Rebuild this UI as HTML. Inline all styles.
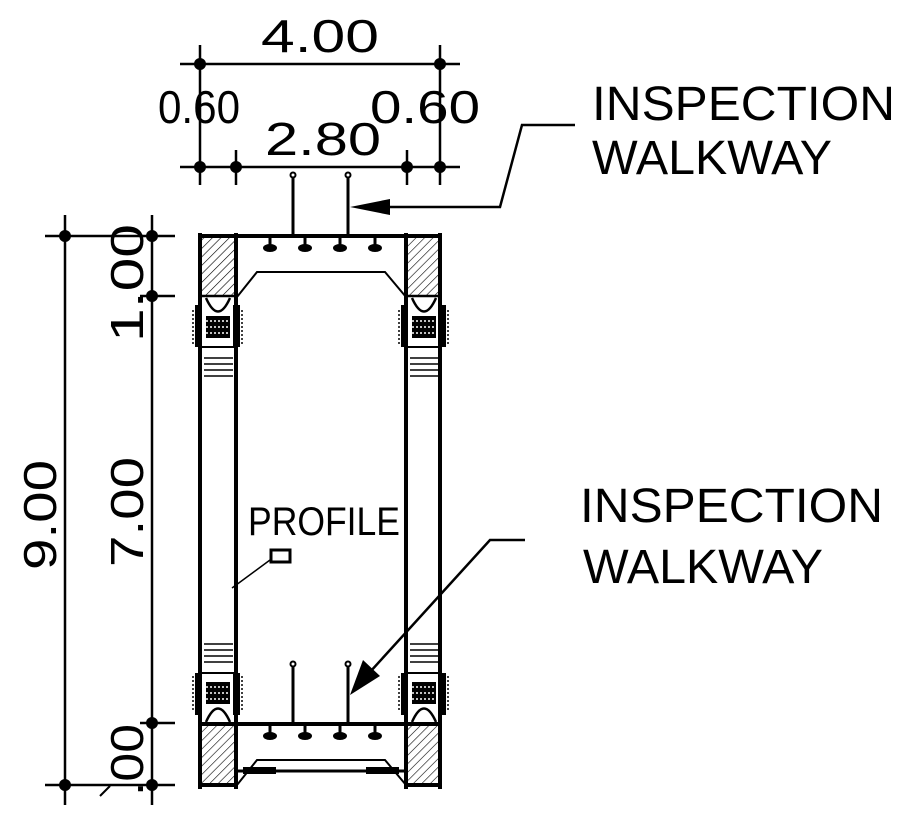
<!DOCTYPE html>
<html><head><meta charset="utf-8"><style>
html,body{margin:0;padding:0;background:#fff;width:915px;height:824px;overflow:hidden}
text{font-family:"Liberation Sans",sans-serif;fill:#000}
</style></head><body>
<svg width="915" height="824" viewBox="0 0 915 824" xmlns="http://www.w3.org/2000/svg">
<defs>
<pattern id="h" width="6" height="6" patternUnits="userSpaceOnUse" patternTransform="rotate(45)">
<line x1="0" y1="0" x2="0" y2="6" stroke="#000" stroke-width="1.2"/>
</pattern>
<g id="det">
<!-- U arc -->
<path d="M206,298 Q218,325 230,298" fill="none" stroke="#000" stroke-width="2.5"/>
<rect x="195" y="305" width="7" height="42" fill="#000"/>
<rect x="233" y="305" width="7" height="42" fill="#000"/>
<line x1="193" y1="310" x2="193" y2="345" stroke="#000" stroke-width="1.5" stroke-dasharray="2,2"/>
<line x1="242" y1="310" x2="242" y2="345" stroke="#000" stroke-width="1.5" stroke-dasharray="2,2"/>
<rect x="206" y="316" width="24" height="22" fill="#000"/>
<line x1="206" y1="321" x2="230" y2="321" stroke="#fff" stroke-width="1.5" stroke-dasharray="2,2"/>
<line x1="206" y1="327" x2="230" y2="327" stroke="#fff" stroke-width="1.5" stroke-dasharray="2,2"/>
<line x1="206" y1="333" x2="230" y2="333" stroke="#fff" stroke-width="1.5" stroke-dasharray="2,2"/>
<line x1="202" y1="347" x2="236" y2="347" stroke="#000" stroke-width="2"/>
<line x1="204" y1="358" x2="233" y2="358" stroke="#000" stroke-width="1.5"/>
<line x1="204" y1="364" x2="233" y2="364" stroke="#000" stroke-width="1.5"/>
<line x1="204" y1="370" x2="233" y2="370" stroke="#000" stroke-width="1.5"/>
<line x1="204" y1="376" x2="233" y2="376" stroke="#000" stroke-width="1.5"/>
</g>
<g id="hang">
<line x1="0" y1="0" x2="0" y2="10" stroke="#000" stroke-width="3"/>
<ellipse cx="0" cy="12" rx="7" ry="4" fill="#000"/>
</g>
</defs>

<!-- top dimension -->
<g stroke="#000" stroke-width="2.5">
<line x1="180" y1="64" x2="460" y2="64"/>
<line x1="180" y1="167" x2="460" y2="167"/>
<line x1="200" y1="45" x2="200" y2="185"/>
<line x1="440" y1="45" x2="440" y2="185"/>
<line x1="236" y1="150" x2="236" y2="185"/>
<line x1="407" y1="150" x2="407" y2="185"/>
</g>
<g fill="#000">
<circle cx="200" cy="64" r="6"/><circle cx="440" cy="64" r="6"/>
<circle cx="200" cy="167" r="6"/><circle cx="236" cy="167" r="6"/>
<circle cx="407" cy="167" r="6"/><circle cx="440" cy="167" r="6"/>
</g>
<text x="320" y="52" font-size="46" text-anchor="middle" textLength="118" lengthAdjust="spacingAndGlyphs">4.00</text>
<text x="158" y="123" font-size="46" textLength="82" lengthAdjust="spacingAndGlyphs">0.60</text>
<text x="265" y="155" font-size="46" textLength="116" lengthAdjust="spacingAndGlyphs">2.80</text>
<text x="370" y="123" font-size="46" textLength="110" lengthAdjust="spacingAndGlyphs">0.60</text>

<!-- left dimension -->
<g stroke="#000" stroke-width="2.5">
<line x1="65" y1="215" x2="65" y2="805"/>
<line x1="152" y1="215" x2="152" y2="805"/>
<line x1="45" y1="236" x2="175" y2="236"/>
<line x1="140" y1="296" x2="175" y2="296"/>
<line x1="140" y1="723" x2="175" y2="723"/>
<line x1="45" y1="785" x2="175" y2="785"/>
</g>
<g fill="#000">
<circle cx="65" cy="236" r="6"/><circle cx="152" cy="236" r="6"/>
<circle cx="152" cy="296" r="6"/><circle cx="152" cy="723" r="6"/>
<circle cx="65" cy="785" r="6"/><circle cx="152" cy="785" r="6"/>
</g>
<text transform="translate(56,515) rotate(-90)" font-size="46" text-anchor="middle" textLength="110" lengthAdjust="spacingAndGlyphs">9.00</text>
<text transform="translate(143,512) rotate(-90)" font-size="46" text-anchor="middle" textLength="110" lengthAdjust="spacingAndGlyphs">7.00</text>
<text transform="translate(143,283) rotate(-90)" font-size="46" text-anchor="middle" textLength="118" lengthAdjust="spacingAndGlyphs">1.00</text>
<text transform="translate(143,760) rotate(-90)" font-size="46" text-anchor="middle" textLength="72" lengthAdjust="spacingAndGlyphs">.00</text>
<path d="M100,796 L110,786" stroke="#000" stroke-width="2"/>

<!-- hatched blocks -->
<rect x="202" y="238" width="32" height="58" fill="url(#h)"/>
<rect x="408" y="238" width="30" height="58" fill="url(#h)"/>
<rect x="202" y="725" width="32" height="58" fill="url(#h)"/>
<rect x="408" y="725" width="30" height="58" fill="url(#h)"/>

<!-- walls -->
<g stroke="#000" stroke-width="4">
<line x1="200" y1="233" x2="200" y2="789"/>
<line x1="236" y1="233" x2="236" y2="789"/>
<line x1="406" y1="233" x2="406" y2="789"/>
<line x1="440" y1="233" x2="440" y2="789"/>
<line x1="200" y1="236" x2="440" y2="236"/>
<line x1="200" y1="724" x2="440" y2="724"/>
<line x1="200" y1="296" x2="236" y2="296" stroke-width="2.5"/>
<line x1="406" y1="296" x2="440" y2="296" stroke-width="2.5"/>
<line x1="200" y1="785" x2="236" y2="785"/>
<line x1="406" y1="785" x2="440" y2="785"/>
</g>
<!-- haunches -->
<path d="M237,297 L257,272 L385,272 L406,297" fill="none" stroke="#000" stroke-width="2"/>
<path d="M237,785 L257,760 L385,760 L406,785" fill="none" stroke="#000" stroke-width="2"/>
<line x1="236" y1="771" x2="406" y2="771" stroke="#000" stroke-width="3"/>
<rect x="243" y="767" width="33" height="7" fill="#000"/>
<rect x="366" y="767" width="33" height="7" fill="#000"/>

<!-- column details -->
<use href="#det"/>
<use href="#det" transform="translate(206,0)"/>
<use href="#det" transform="translate(0,1020) scale(1,-1)"/>
<use href="#det" transform="translate(206,1020) scale(1,-1)"/>

<!-- hangers -->
<use href="#hang" transform="translate(270,236)"/>
<use href="#hang" transform="translate(305,236)"/>
<use href="#hang" transform="translate(340,236)"/>
<use href="#hang" transform="translate(375,236)"/>
<use href="#hang" transform="translate(270,724)"/>
<use href="#hang" transform="translate(305,724)"/>
<use href="#hang" transform="translate(340,724)"/>
<use href="#hang" transform="translate(375,724)"/>

<!-- walkway posts -->
<g stroke="#000" stroke-width="3">
<line x1="293" y1="176" x2="293" y2="236"/>
<line x1="348" y1="176" x2="348" y2="236"/>
<line x1="293" y1="665" x2="293" y2="724"/>
<line x1="348" y1="665" x2="348" y2="724"/>
</g>
<g fill="#fff" stroke="#000" stroke-width="2">
<circle cx="293" cy="175" r="2.5"/><circle cx="348" cy="175" r="2.5"/>
<circle cx="293" cy="664" r="2.5"/><circle cx="348" cy="664" r="2.5"/>
</g>

<!-- leaders -->
<path d="M575,125 L522,125 L500,207 L385,207" fill="none" stroke="#000" stroke-width="2.5"/>
<polygon points="350,207 390,199 390,215" fill="#000"/>
<path d="M525,540 L490,540 L370,672" fill="none" stroke="#000" stroke-width="2.5"/>
<polygon points="350,695 363,660 380,676" fill="#000"/>

<text x="592" y="120" font-size="48" textLength="303" lengthAdjust="spacingAndGlyphs">INSPECTION</text>
<text x="592" y="174" font-size="48" textLength="240" lengthAdjust="spacingAndGlyphs">WALKWAY</text>
<text x="580" y="522" font-size="48" textLength="303" lengthAdjust="spacingAndGlyphs">INSPECTION</text>
<text x="583" y="583" font-size="48" textLength="240" lengthAdjust="spacingAndGlyphs">WALKWAY</text>

<!-- profile -->
<text x="248" y="535" font-size="40" textLength="152" lengthAdjust="spacingAndGlyphs">PROFILE</text>
<rect x="271" y="550" width="19" height="12" fill="none" stroke="#000" stroke-width="3"/>
<line x1="270" y1="560" x2="232" y2="588" stroke="#000" stroke-width="1.5"/>
</svg>
</body></html>
